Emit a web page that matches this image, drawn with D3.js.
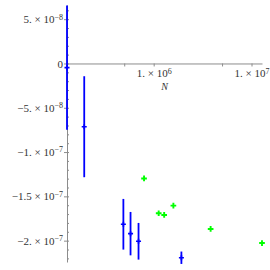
<!DOCTYPE html>
<html>
<head>
<meta charset="utf-8">
<script src="https://cdn.jsdelivr.net/npm/d3@7"></script>
<style>
  body { margin: 0; background: #fff; }
  svg { display: block; }
</style>
</head>
<body>
<svg id="chart" width="270" height="270"></svg>
<script>
// blue series: N, value, error
var blueN = [1.3e5, 1.95e5, 4.9e5, 5.8e5, 7.0e5, 1.92e6];
var blueVal = [-4.7e-9, -7.14e-8, -1.815e-7, -1.921e-7, -2.007e-7, -2.193e-7];
var blueErr = [7.0e-8, 5.7e-8, 2.86e-8, 2.45e-8, 2.07e-8, 7.0e-9];

// green series
var greenN = [7.97e5, 1.125e6, 1.28e6, 1.59e6, 3.82e6, 1.28e7];
var greenVal = [-1.298e-7, -1.691e-7, -1.710e-7, -1.605e-7, -1.868e-7, -2.027e-7];

// ticks
var xTicks = [5e5, 1e6, 5e6, 1e7];
var xTickLabels = ["", "1. × 10|6", "", "1. × 10|7"];
var yTicks = [5e-8, 0, -5e-8, -1e-7, -1.5e-7, -2e-7];
var yTickLabels = ["5. × 10|−8", "0", "−5. × 10|−8", "−1. × 10|−7", "−1.5 × 10|−7", "−2. × 10|−7"];

var svg = d3.select("#chart");
var font = "'Liberation Serif', 'Times New Roman', serif";

var x = d3.scaleLog().domain([1.3e5, 1.28e7]).range([67, 262]);
var y = d3.scaleLinear().domain([-2.241e-7, 6.6e-8]).range([262, 5]);

// superscript label helper
function supLabel(sel, str) {
  var parts = str.split("|");
  sel.text(null);
  sel.append("tspan").text(parts[0]);
  if (parts.length > 1) {
    sel.append("tspan")
      .attr("dy", "-0.45em")
      .attr("font-size", "8px")
      .text(parts[1]);
  }
}

// y axis minor ticks
var minor = d3.range(-22, 7).map(function(d) { return d * 1e-8; });
svg.append("g")
  .selectAll("line")
  .data(minor)
  .enter().append("line")
  .attr("x1", x.range()[0]).attr("x2", x.range()[0] + 2)
  .attr("y1", function(d) { return y(d) + 0.5; })
  .attr("y2", function(d) { return y(d) + 0.5; })
  .attr("stroke", "#8c8c8c").attr("stroke-width", 1);

// y axis
var yAxis = svg.append("g")
  .attr("transform", "translate(" + x(x.domain()[0]) + ",0)")
  .call(d3.axisLeft(y).tickValues(yTicks).tickSize(3).tickSizeOuter(0)
    .tickFormat(function(d, i) { return yTickLabels[i]; }));
yAxis.select(".domain").attr("stroke", "#8c8c8c");
yAxis.selectAll(".tick line").attr("stroke", "#8c8c8c");
yAxis.selectAll(".tick text")
  .attr("font-family", font).attr("font-size", "11px").attr("fill", "#333")
  .attr("x", -4)
  .each(function(d, i) { supLabel(d3.select(this), yTickLabels[i]); });

// x axis
var xAxis = svg.append("g")
  .attr("transform", "translate(0," + y(0) + ")")
  .call(d3.axisBottom(x).tickValues(xTicks).tickSize(3).tickSizeOuter(0)
    .tickFormat(function(d, i) { return xTickLabels[i]; }));
xAxis.select(".domain").attr("stroke", "#8c8c8c");
xAxis.selectAll(".tick line").attr("stroke", "#8c8c8c");
xAxis.selectAll(".tick text")
  .attr("font-family", font).attr("font-size", "11px").attr("fill", "#333")
  .attr("y", 6)
  .each(function(d, i) { supLabel(d3.select(this), xTickLabels[i]); });

// axis title
svg.append("text")
  .attr("x", (x.range()[0] + x.range()[1]) / 2)
  .attr("y", y(0) + 27)
  .attr("text-anchor", "middle")
  .attr("font-family", font).attr("font-style", "italic")
  .attr("font-size", "10px").attr("fill", "#333")
  .text("N");

// blue error bars
var blue = blueN.map(function(n, i) { return { n: n, v: blueVal[i], e: blueErr[i] }; });
var bg = svg.append("g");
bg.selectAll("line.bar")
  .data(blue)
  .enter().append("line")
  .attr("class", "bar")
  .attr("x1", function(d) { return x(d.n); })
  .attr("x2", function(d) { return x(d.n); })
  .attr("y1", function(d) { return y(d.v + d.e); })
  .attr("y2", function(d) { return y(d.v - d.e); })
  .attr("stroke", "#0000ff").attr("stroke-width", 1.8);
bg.selectAll("path.mark")
  .data(blue)
  .enter().append("path")
  .attr("class", "mark")
  .attr("d", d3.symbol().type(d3.symbolCross).size(14))
  .attr("transform", function(d) { return "translate(" + x(d.n) + "," + y(d.v) + ")"; })
  .attr("fill", "#0000ff");

// green points
var green = greenN.map(function(n, i) { return { n: n, v: greenVal[i] }; });
svg.append("g")
  .selectAll("path")
  .data(green)
  .enter().append("path")
  .attr("d", d3.symbol().type(d3.symbolCross).size(18))
  .attr("transform", function(d) { return "translate(" + x(d.n) + "," + y(d.v) + ")"; })
  .attr("fill", "#00ff00");
</script>
</body>
</html>
